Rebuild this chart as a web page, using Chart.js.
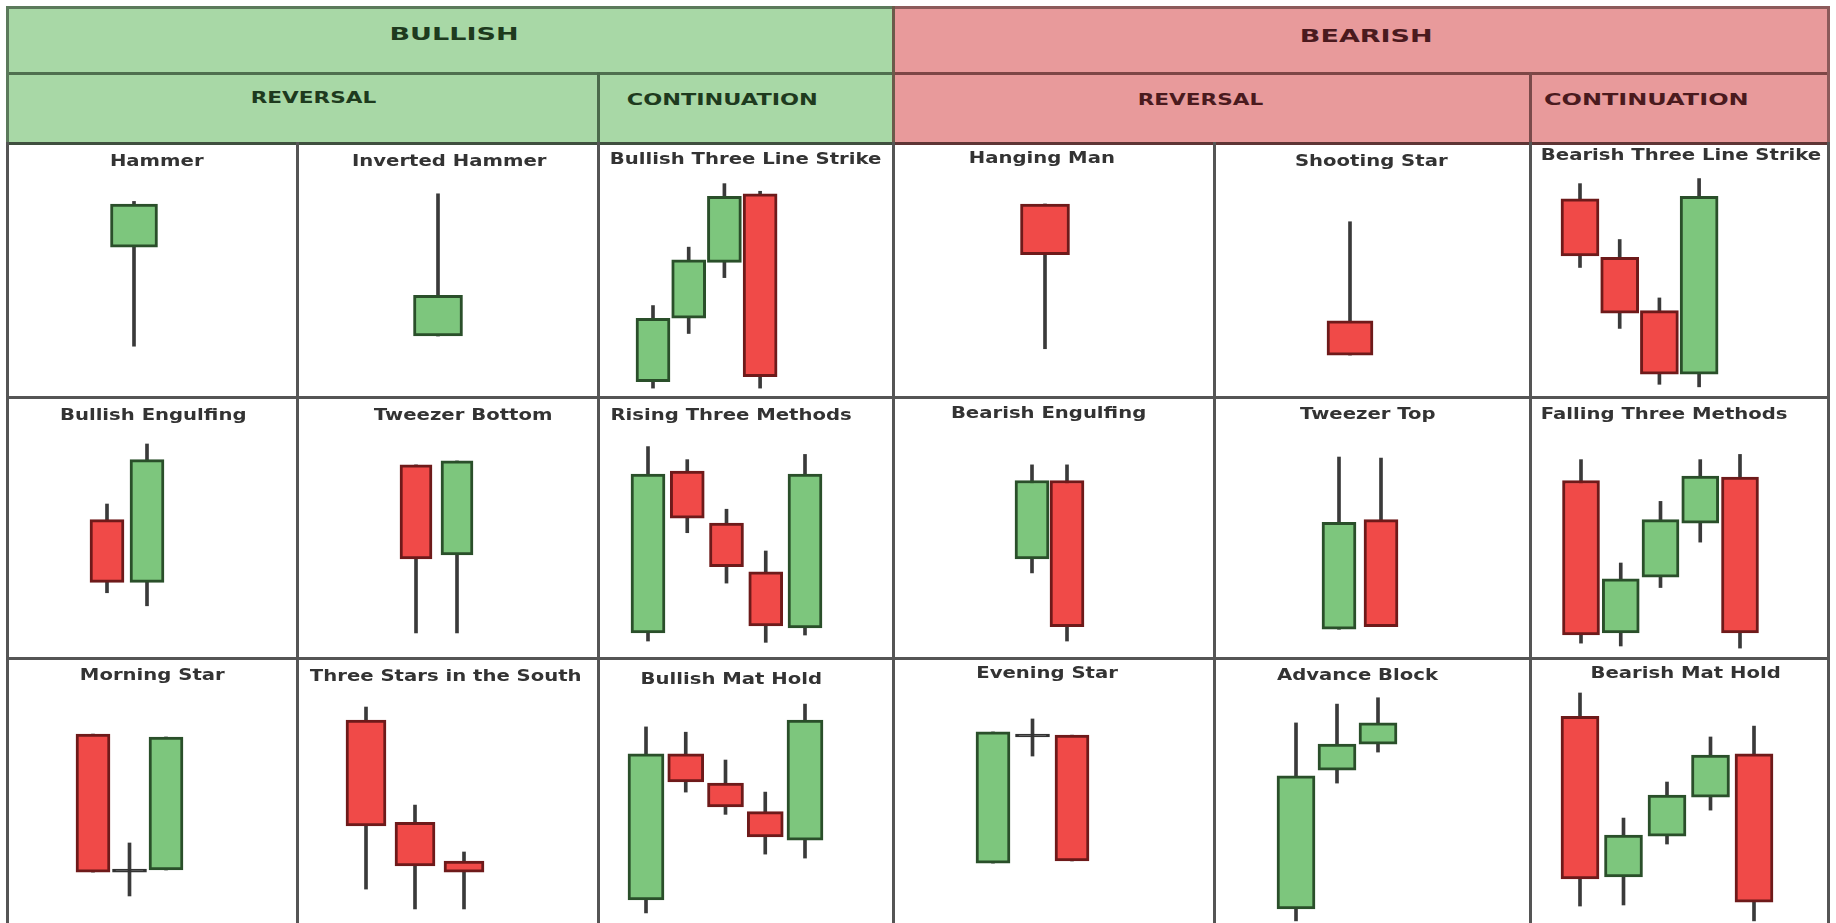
<!DOCTYPE html>
<html>
<head>
<meta charset="utf-8">
<script src="https://cdn.jsdelivr.net/npm/chart.js@4.4.1/dist/chart.umd.min.js"></script>
<style>
  html, body { margin:0; padding:0; background:#ffffff; }
  #root { position:relative; width:1836px; height:923px; overflow:hidden; background:#ffffff; font-family:"DejaVu Sans", Verdana, sans-serif; }
  .box { position:absolute; }
  .ln { position:absolute; }
  .txt { position:absolute; white-space:nowrap; font-weight:bold; transform-origin:center center; }
  canvas { position:absolute; }
</style>
</head>
<body>
<div id="root"></div>
<script>
// ---------------- DATA (open, high, low, close) on a 0-100 price scale per pattern ----------------
const groupLabels = ["BULLISH", "BEARISH"];
const subLabels = ["REVERSAL", "CONTINUATION", "REVERSAL", "CONTINUATION"];
const patternNames = [
  "Hammer", "Inverted Hammer", "Bullish Three Line Strike", "Hanging Man", "Shooting Star", "Bearish Three Line Strike",
  "Bullish Engulfing", "Tweezer Bottom", "Rising Three Methods", "Bearish Engulfing", "Tweezer Top", "Falling Three Methods",
  "Morning Star", "Three Stars in the South", "Bullish Mat Hold", "Evening Star", "Advance Block", "Bearish Mat Hold"
];

const hammer            = [[59, 77, 20, 76]];
const invertedHammer    = [[24, 80, 24, 40]];
const bullishThreeLine  = [[6, 36, 3.5, 31], [31, 59, 25, 54], [53, 84, 47, 79], [80, 81, 3.5, 8]];
const hangingMan        = [[76, 76, 19, 56]];
const shootingStar      = [[30, 69, 16.5, 16.5]];
const bearishThreeLine  = [[78, 84, 51, 55.5], [55, 62, 27, 33], [34, 39, 5, 9], [9, 86, 4, 79]];

const bullishEngulfing  = [[53, 59, 25, 29], [29, 82, 20, 76]];
const tweezerBottom     = [[74, 74, 9.6, 38], [39.5, 75.5, 9.6, 75.5]];
const risingThree       = [[9.6, 81, 6.5, 70.5], [71.6, 76, 48, 53.6], [51.7, 57, 28.7, 35], [33, 41, 6, 12.3], [11.5, 78, 8.8, 70.5]];
const bearishEngulfing  = [[38, 74, 32.6, 68], [68, 74, 6.5, 12]];
const tweezerTop        = [[11, 77, 11, 52], [53, 76.6, 12, 12]];
const fallingThree      = [[68, 76, 5.7, 8.8], [9.6, 36.4, 4.6, 30.3], [31, 60, 27, 53], [51.7, 76, 44.4, 69.7], [69.3, 78, 3.8, 9.6]];

const morningStar       = [[71.3, 71.3, 19.2, 19.2], [19.2, 30.2, 10.2, 19.2], [20, 70.2, 20, 70.2]];
const threeStarsSouth   = [[76.6, 81.5, 12.8, 36.6], [38, 44.5, 5.3, 21.5], [23.4, 26.8, 5.3, 19.2]];
const bullishMatHold    = [[8.7, 74, 3.8, 63.8], [63.8, 72, 49.4, 53.2], [52.8, 61.5, 41, 43.8], [42, 49.4, 26, 32.5], [31.3, 82.6, 24.5, 76.6]];
const eveningStar       = [[22.6, 72.1, 22.6, 72.1], [70.2, 77, 63, 70.2], [70.9, 70.9, 23.4, 23.4]];
const advanceBlock      = [[5.3, 75.5, 0.8, 55.5], [57.7, 82.6, 52.8, 67.5], [67.5, 85, 64.5, 75.5]];
const bearishMatHold    = [[78, 86.8, 6.4, 16.6], [17.4, 39.6, 6.8, 33.2], [32.8, 53.2, 29.8, 48.3], [47.5, 70.2, 42.6, 63.4], [63.8, 74.3, 0.8, 7.9]];

const patternData = [
  hammer, invertedHammer, bullishThreeLine, hangingMan, shootingStar, bearishThreeLine,
  bullishEngulfing, tweezerBottom, risingThree, bearishEngulfing, tweezerTop, fallingThree,
  morningStar, threeStarsSouth, bullishMatHold, eveningStar, advanceBlock, bearishMatHold
];

// ---------------- LAYOUT ----------------
const COLS = [7, 297, 598, 893, 1214, 1530, 1828];
const ROWS = [143, 397, 658, 923];
// per-cell: offset of first candle from cell left, candle step, body width, title center
const cellLayout = [
  {off:127, step:40, w:47, tx:157,  ty:161},
  {off:141, step:40, w:49, tx:449,  ty:161},
  {off:55,  step:35.7, w:34, tx:745, ty:159},
  {off:152, step:40, w:49, tx:1042, ty:158},
  {off:136, step:40, w:46, tx:1371, ty:161},
  {off:50,  step:39.7, w:38, tx:1681, ty:155},
  {off:100, step:40, w:34, tx:153,  ty:415},
  {off:119, step:41, w:32, tx:463,  ty:415},
  {off:50,  step:39.25, w:34, tx:731, ty:415},
  {off:139, step:35, w:34, tx:1048, ty:413},
  {off:125, step:42, w:34, tx:1368, ty:414},
  {off:51,  step:39.75, w:37, tx:1664, ty:414},
  {off:86,  step:36.5, w:34, tx:152, ty:675},
  {off:69,  step:49, w:40, tx:445,  ty:676},
  {off:48,  step:39.75, w:36, tx:731, ty:679},
  {off:100, step:39.5, w:34, tx:1047, ty:673},
  {off:82,  step:41, w:38, tx:1357, ty:675},
  {off:50,  step:43.5, w:38, tx:1685, ty:673}
];

const UP_FILL = '#7dc67d', UP_EDGE = '#2a4f2a';
const DN_FILL = '#f04a48', DN_EDGE = '#6e1a1a';
const DOJI = '#333333', WICK = '#3a3a3a';

const root = document.getElementById('root');

function addBox(x, y, w, h, bg) {
  const d = document.createElement('div');
  d.className = 'box';
  Object.assign(d.style, {left:x+'px', top:y+'px', width:w+'px', height:h+'px', background:bg});
  root.appendChild(d);
}
function addText(str, cx, cy, size, color, sx) {
  const d = document.createElement('div');
  d.className = 'txt';
  d.textContent = str;
  Object.assign(d.style, {fontSize:size+'px', color:color, left:'0px', top:'0px', lineHeight:size*1.2+'px'});
  root.appendChild(d);
  const w = d.offsetWidth, h = d.offsetHeight;
  d.style.left = (cx - w/2) + 'px';
  d.style.top = (cy - h/2) + 'px';
  d.style.transform = 'scaleX(' + sx + ')';
}
function hLine(x1, x2, y, color) {
  const d = document.createElement('div'); d.className = 'ln';
  Object.assign(d.style, {left:(x1-1.5)+'px', top:(y-1.5)+'px', width:(x2-x1+3)+'px', height:'3px', background:color});
  root.appendChild(d);
}
function vLine(x, y1, y2, color) {
  const d = document.createElement('div'); d.className = 'ln';
  Object.assign(d.style, {left:(x-1.5)+'px', top:(y1-1.5)+'px', width:'3px', height:(y2-y1+3)+'px', background:color});
  root.appendChild(d);
}

// header fills
addBox(7, 7, 886, 136, '#a8d8a6');
addBox(893, 7, 935, 136, '#e89a9b');

// header texts
addText(groupLabels[0], 454, 34, 18, '#1e3a1e', 1.5);
addText(groupLabels[1], 1366, 36, 18, '#4a1a1e', 1.5);
addText(subLabels[0], 313, 97, 16, '#1e3a1e', 1.35);
addText(subLabels[1], 722, 99, 16, '#1e3a1e', 1.4);
addText(subLabels[2], 1200, 99, 16, '#4a1a1e', 1.35);
addText(subLabels[3], 1646, 99, 16, '#4a1a1e', 1.5);

// candlestick charts
Chart.defaults.font.family = '"DejaVu Sans", sans-serif';
patternData.forEach((ohlc, k) => {
  const L = cellLayout[k];
  const col = k % 6, row = Math.floor(k / 6);
  const x0 = COLS[col], x1 = COLS[col+1], y0 = ROWS[row], y1 = ROWS[row+1];
  const W = x1 - x0, H = y1 - y0;
  const cv = document.createElement('canvas');
  cv.width = W; cv.height = H;
  Object.assign(cv.style, {left:x0+'px', top:y0+'px', width:W+'px', height:H+'px'});
  root.appendChild(cv);

  const kind = ohlc.map(c => c[3] > c[0] ? 'up' : (c[3] < c[0] ? 'down' : 'doji'));
  new Chart(cv, {
    type: 'bar',
    data: {
      datasets: [
        {
          data: ohlc.map((c, i) => ({x: i, y: [c[0], c[3]]})),
          backgroundColor: kind.map(t => t === 'up' ? UP_FILL : t === 'down' ? DN_FILL : DOJI),
          borderColor: kind.map(t => t === 'up' ? UP_EDGE : t === 'down' ? DN_EDGE : DOJI),
          borderWidth: 3,
          borderSkipped: false,
          barThickness: L.w,
          minBarLength: 3,
          grouped: false
        },
        {
          data: ohlc.map((c, i) => ({x: i, y: [c[2], c[1]]})),
          backgroundColor: WICK,
          borderWidth: 0,
          barThickness: 3,
          grouped: false
        }
      ]
    },
    options: {
      responsive: false,
      animation: false,
      devicePixelRatio: 1,
      layout: {padding: 0},
      plugins: {legend: {display: false}, tooltip: {enabled: false}, title: {display: false}},
      scales: {
        x: {type: 'linear', offset: false, min: -L.off / L.step, max: (W - L.off) / L.step, display: false},
        y: {min: 0, max: 100, display: false}
      }
    }
  });

  addText(patternNames[k], L.tx, L.ty, 15, '#333333', 1.31);
});

// grid lines
const G = '#555555';
hLine(7, 893, 7, '#5b7a5b'); hLine(893, 1828, 7, '#8c5a5a');
hLine(7, 893, 73, '#4f6f4f'); hLine(893, 1828, 73, '#7d4646');
hLine(7, 893, 143, '#3f4f3f'); hLine(893, 1828, 143, '#5e3535');
hLine(7, 1828, 397, G); hLine(7, 1828, 658, G);
vLine(7, 7, 143, '#5b7a5b'); vLine(7, 143, 923, G);
vLine(598, 73, 143, '#4a6a4a'); vLine(598, 143, 923, G);
vLine(893, 7, 143, '#6b5a4a'); vLine(893, 143, 923, G);
vLine(1530, 73, 143, '#7a4a4a'); vLine(1530, 143, 923, G);
vLine(1828, 7, 143, '#8c5a5a'); vLine(1828, 143, 923, G);
vLine(297, 143, 923, G); vLine(1214, 143, 923, G);
</script>
</body>
</html>
